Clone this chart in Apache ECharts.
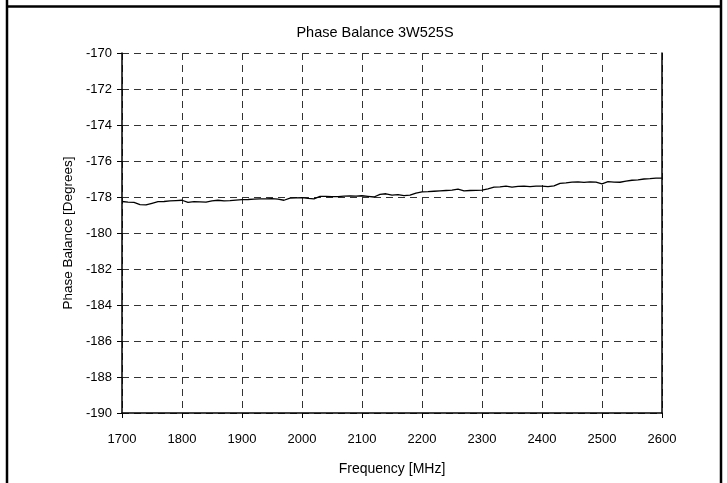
<!DOCTYPE html>
<html>
<head>
<meta charset="utf-8">
<script src="https://cdn.jsdelivr.net/npm/echarts@6/dist/echarts.min.js"></script>
<style>
html,body{margin:0;padding:0;background:#fff;}
#c{width:727px;height:483px;}
</style>
</head>
<body>
<div id="c"></div>
<script>
const titleText = "Phase Balance 3W525S";
const xName = "Frequency [MHz]";
const yName = "Phase Balance [Degrees]";
const frequency = [1700,1710,1720,1730,1740,1750,1760,1770,1780,1790,1800,1810,1820,1830,1840,1850,1860,1870,1880,1890,1900,1910,1920,1930,1940,1950,1960,1970,1980,1990,2000,2010,2020,2030,2040,2050,2060,2070,2080,2090,2100,2110,2120,2130,2140,2150,2160,2170,2180,2190,2200,2210,2220,2230,2240,2250,2260,2270,2280,2290,2300,2310,2320,2330,2340,2350,2360,2370,2380,2390,2400,2410,2420,2430,2440,2450,2460,2470,2480,2490,2500,2510,2520,2530,2540,2550,2560,2570,2580,2590,2600];
const phase = [-178.25,-178.28,-178.30,-178.42,-178.44,-178.35,-178.26,-178.25,-178.22,-178.20,-178.18,-178.30,-178.26,-178.27,-178.29,-178.22,-178.18,-178.22,-178.20,-178.17,-178.15,-178.14,-178.12,-178.10,-178.10,-178.09,-178.12,-178.18,-178.06,-178.05,-178.04,-178.08,-178.10,-177.97,-177.96,-177.98,-177.98,-177.95,-177.94,-177.95,-177.93,-177.96,-178.00,-177.85,-177.82,-177.90,-177.87,-177.92,-177.90,-177.78,-177.71,-177.70,-177.68,-177.66,-177.64,-177.62,-177.56,-177.66,-177.64,-177.63,-177.62,-177.55,-177.45,-177.44,-177.40,-177.45,-177.41,-177.40,-177.42,-177.40,-177.40,-177.42,-177.38,-177.24,-177.22,-177.17,-177.16,-177.19,-177.16,-177.17,-177.27,-177.15,-177.17,-177.18,-177.12,-177.07,-177.05,-177.00,-176.98,-176.95,-176.95];
const xMin = 1700, xMax = 2600, xStep = 100;
const yMin = -190, yMax = -170, yStep = 2;

const chart = echarts.init(document.getElementById('c'));
const font = "Liberation Sans, Arial, sans-serif";
const gridLine = {show:true, lineStyle:{color:'#333', type:[7,5], width:1}};
chart.setOption({
  animation:false,
  backgroundColor:'#fff',
  title:{text:titleText, left:370, top:20, textAlign:'center',
    textStyle:{fontFamily:font, fontSize:14.5, fontWeight:'normal', color:'#000'}},
  grid:{left:122, right:65, top:53, bottom:70, containLabel:false},
  xAxis:{type:'value', min:xMin, max:xMax, interval:xStep,
    name:xName, nameLocation:'middle', nameGap:49,
    nameTextStyle:{fontFamily:font, fontSize:14, color:'#000'},
    axisLine:{show:true, lineStyle:{color:'#000', width:1.5}},
    axisTick:{show:true, length:5, lineStyle:{color:'#000'}},
    axisLabel:{fontFamily:font, fontSize:13, color:'#000', margin:20, formatter:v=>String(v)},
    splitLine:gridLine},
  yAxis:[{type:'value', min:yMin, max:yMax, interval:yStep,
    name:yName, nameLocation:'middle', nameGap:40,
    nameTextStyle:{fontFamily:font, fontSize:13.5, color:'#000'},
    axisLine:{show:true, onZero:false, lineStyle:{color:'#000', width:1.5}},
    axisTick:{show:true, length:5, lineStyle:{color:'#000'}},
    axisLabel:{fontFamily:font, fontSize:13, color:'#000', margin:10, formatter:v=>String(v)},
    splitLine:gridLine},
   {type:'value', position:'right', min:yMin, max:yMax, interval:yStep,
    axisLine:{show:true, onZero:false, lineStyle:{color:'#000', width:1.5}},
    axisTick:{show:false}, axisLabel:{show:false}, splitLine:{show:false}}],
  series:[{type:'line', data:frequency.map((f,i)=>[f,phase[i]]), showSymbol:false,
    symbol:'none', lineStyle:{color:'#000', width:1.3}, silent:true}],
  graphic:[
    {type:'line', shape:{x1:7, y1:0, x2:7, y2:483}, style:{stroke:'#000', lineWidth:2.5}},
    {type:'line', shape:{x1:721, y1:0, x2:721, y2:483}, style:{stroke:'#000', lineWidth:2.5}},
    {type:'line', shape:{x1:7, y1:6.5, x2:721, y2:6.5}, style:{stroke:'#000', lineWidth:2.5}}
  ]
});
</script>
</body>
</html>
